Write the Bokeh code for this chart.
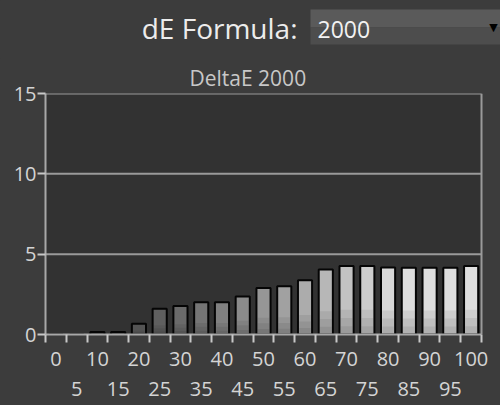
from bokeh.plotting import figure
from bokeh.layouts import column
from bokeh.models import ColumnDataSource, Range1d, FixedTicker, LinearAxis, Title
from bokeh.core.properties import value
from bokeh.embed import file_html
from bokeh.resources import INLINE

# ---- data ----
levels = [0, 5, 10, 15, 20, 25, 30, 35, 40, 45, 50, 55, 60, 65, 70, 75, 80, 85, 90, 95, 100]
delta_e = [0.0, 0.0, 0.15, 0.15, 0.67, 1.6, 1.77, 2.0, 2.0, 2.37, 2.9, 3.0, 3.37,
           4.04, 4.27, 4.27, 4.17, 4.15, 4.15, 4.15, 4.27]
y_ticks = [0, 5, 10, 15]
chart_title = "DeltaE 2000"
header_label = "dE Formula:"
dropdown_value = "2000"

FONT = "Open Sans"
BG = "#3c3c3c"
PLOT_BG = "#323232"
LINE = "#9a9a9a"
idx = list(range(len(levels)))
n = len(levels)

# greyscale ramp for bars (style)
def grey(i):
    v = min(40 + 11 * i, 222)
    return "#%02x%02x%02x" % (v, v, v)

colors = [grey(i) for i in idx]

# layout geometry (pixels)
LEFT = 45            # frame left (both figures are aligned here)
PLOT_RIGHT = 481     # right edge of the chart's plot area
CAT_PX = (PLOT_RIGHT - LEFT) / n
X_END = -0.5 + (500 - LEFT) / CAT_PX   # frame runs to the window edge

# ---------------- header (dE Formula + dropdown) ----------------
HH = 58
hdr = figure(width=500, height=HH, x_range=Range1d(LEFT, 500), y_range=Range1d(HH, 0),
             output_backend="svg", toolbar_location=None,
             x_axis_location=None, y_axis_location=None,
             min_border_left=LEFT, min_border_right=0, min_border_top=0, min_border_bottom=0,
             background_fill_color=BG, border_fill_color=BG, outline_line_color=None)
hdr.grid.visible = False
hdr.text(x=[297], y=[27], text=[header_label], text_font=value(FONT),
         text_font_size="28px", text_color="#ececec",
         text_align="right", text_baseline="middle")
hdr.quad(left=[310], right=[500], top=[9], bottom=[27], fill_color="#5a5a5a", line_color=None)
hdr.quad(left=[310], right=[500], top=[27], bottom=[44], fill_color="#4d4d4d", line_color=None)
hdr.text(x=[317], y=[29], text=[dropdown_value], text_font=value(FONT),
         text_font_size="23px", text_color="#f2f2f2",
         text_align="left", text_baseline="middle")
hdr.text(x=[493], y=[27], text=["\u25bc"], text_font=value("DejaVu Sans"),
         text_font_size="11px", text_color="#000000",
         text_align="center", text_baseline="middle")

# ---------------- chart ----------------
src = ColumnDataSource(dict(x=idx, top=delta_e, level=[str(l) for l in levels], color=colors,
                            s1=[v * 0.36 for v in delta_e],
                            s2=[v * 0.24 for v in delta_e],
                            s3=[v * 0.12 for v in delta_e]))

W, H = 500, 405 - HH
p = figure(width=W, height=H, x_range=Range1d(-0.5, X_END), y_range=Range1d(0, 15),
           output_backend="svg", toolbar_location=None,
           min_border_left=LEFT, min_border_right=0, min_border_top=93 - HH,
           min_border_bottom=H - (334 - HH),
           background_fill_color=BG, border_fill_color=BG, outline_line_color=None)

p.title = Title(text=chart_title, align="left", text_font=FONT, text_font_size="21px",
                text_color="#c8c8c8", text_font_style="normal", offset=189 - LEFT, standoff=3)

# plot area background, grid lines and border (limited to the category span)
p.quad(left=[-0.5], right=[n - 0.5], bottom=[0], top=[15], fill_color=PLOT_BG, line_color=None)
grid_y = [t for t in y_ticks if t > 0]
p.segment(x0=[-0.5] * len(grid_y), x1=[n - 0.5] * len(grid_y), y0=grid_y, y1=grid_y,
          line_color=LINE, line_width=2)
p.segment(x0=[n - 0.5], x1=[n - 0.5], y0=[0], y1=[15], line_color=LINE, line_width=2)

p.vbar(x="x", top="top", width=0.68, source=src, fill_color="color",
       line_color="#050505", line_width=2)
# soft darkening toward the bar bottoms (shading)
for col in ("s1", "s2", "s3"):
    p.vbar(x="x", top=col, width=0.57, source=src, fill_color="#000000", fill_alpha=0.07,
           line_color=None)

p.xgrid.visible = False
p.ygrid.visible = False

# y axis
ya = p.yaxis[0]
ya.ticker = FixedTicker(ticks=y_ticks)
ya.axis_line_color = "#a8a8a8"
ya.axis_line_width = 2
ya.major_tick_line_color = "#c8c8c8"
ya.major_tick_line_width = 2
ya.major_tick_out = 8
ya.major_tick_in = 0
ya.minor_tick_line_color = None
ya.major_label_standoff = 1
ya.major_label_text_font = FONT
ya.major_label_text_font_size = "20px"
ya.major_label_text_color = "#d4d4d4"

# x axis: even labels, boundary ticks
even = [i for i in idx if i % 2 == 0]
odd = [i for i in idx if i % 2 == 1]
xa = p.xaxis[0]
xa.bounds = (-0.5, n - 0.5)
xa.ticker = FixedTicker(ticks=even, minor_ticks=[i - 0.5 for i in range(n + 1)])
xa.major_label_overrides = {i: str(levels[i]) for i in even}
xa.axis_line_color = "#a8a8a8"
xa.axis_line_width = 2
xa.major_tick_out = 0
xa.major_tick_in = 0
xa.major_tick_line_color = None
xa.minor_tick_out = 8
xa.minor_tick_in = 0
xa.minor_tick_line_color = "#c8c8c8"
xa.minor_tick_line_width = 2
xa.major_label_standoff = 9
xa.major_label_text_font = FONT
xa.major_label_text_font_size = "20px"
xa.major_label_text_color = "#d4d4d4"

xa2 = LinearAxis(ticker=FixedTicker(ticks=odd),
                 major_label_overrides={i: str(levels[i]) for i in odd})
xa2.axis_line_color = None
xa2.major_tick_line_color = None
xa2.minor_tick_line_color = None
xa2.major_tick_out = 0
xa2.major_tick_in = 0
xa2.major_label_standoff = 13
xa2.major_label_text_font = FONT
xa2.major_label_text_font_size = "20px"
xa2.major_label_text_color = "#d4d4d4"
p.add_layout(xa2, "below")

layout = column(hdr, p, spacing=0)
html = file_html(layout, INLINE)
html = html.replace("<head>", "<head><style>html,body{background:#3c3c3c;}</style>", 1)
open("out.html", "w").write(html)
